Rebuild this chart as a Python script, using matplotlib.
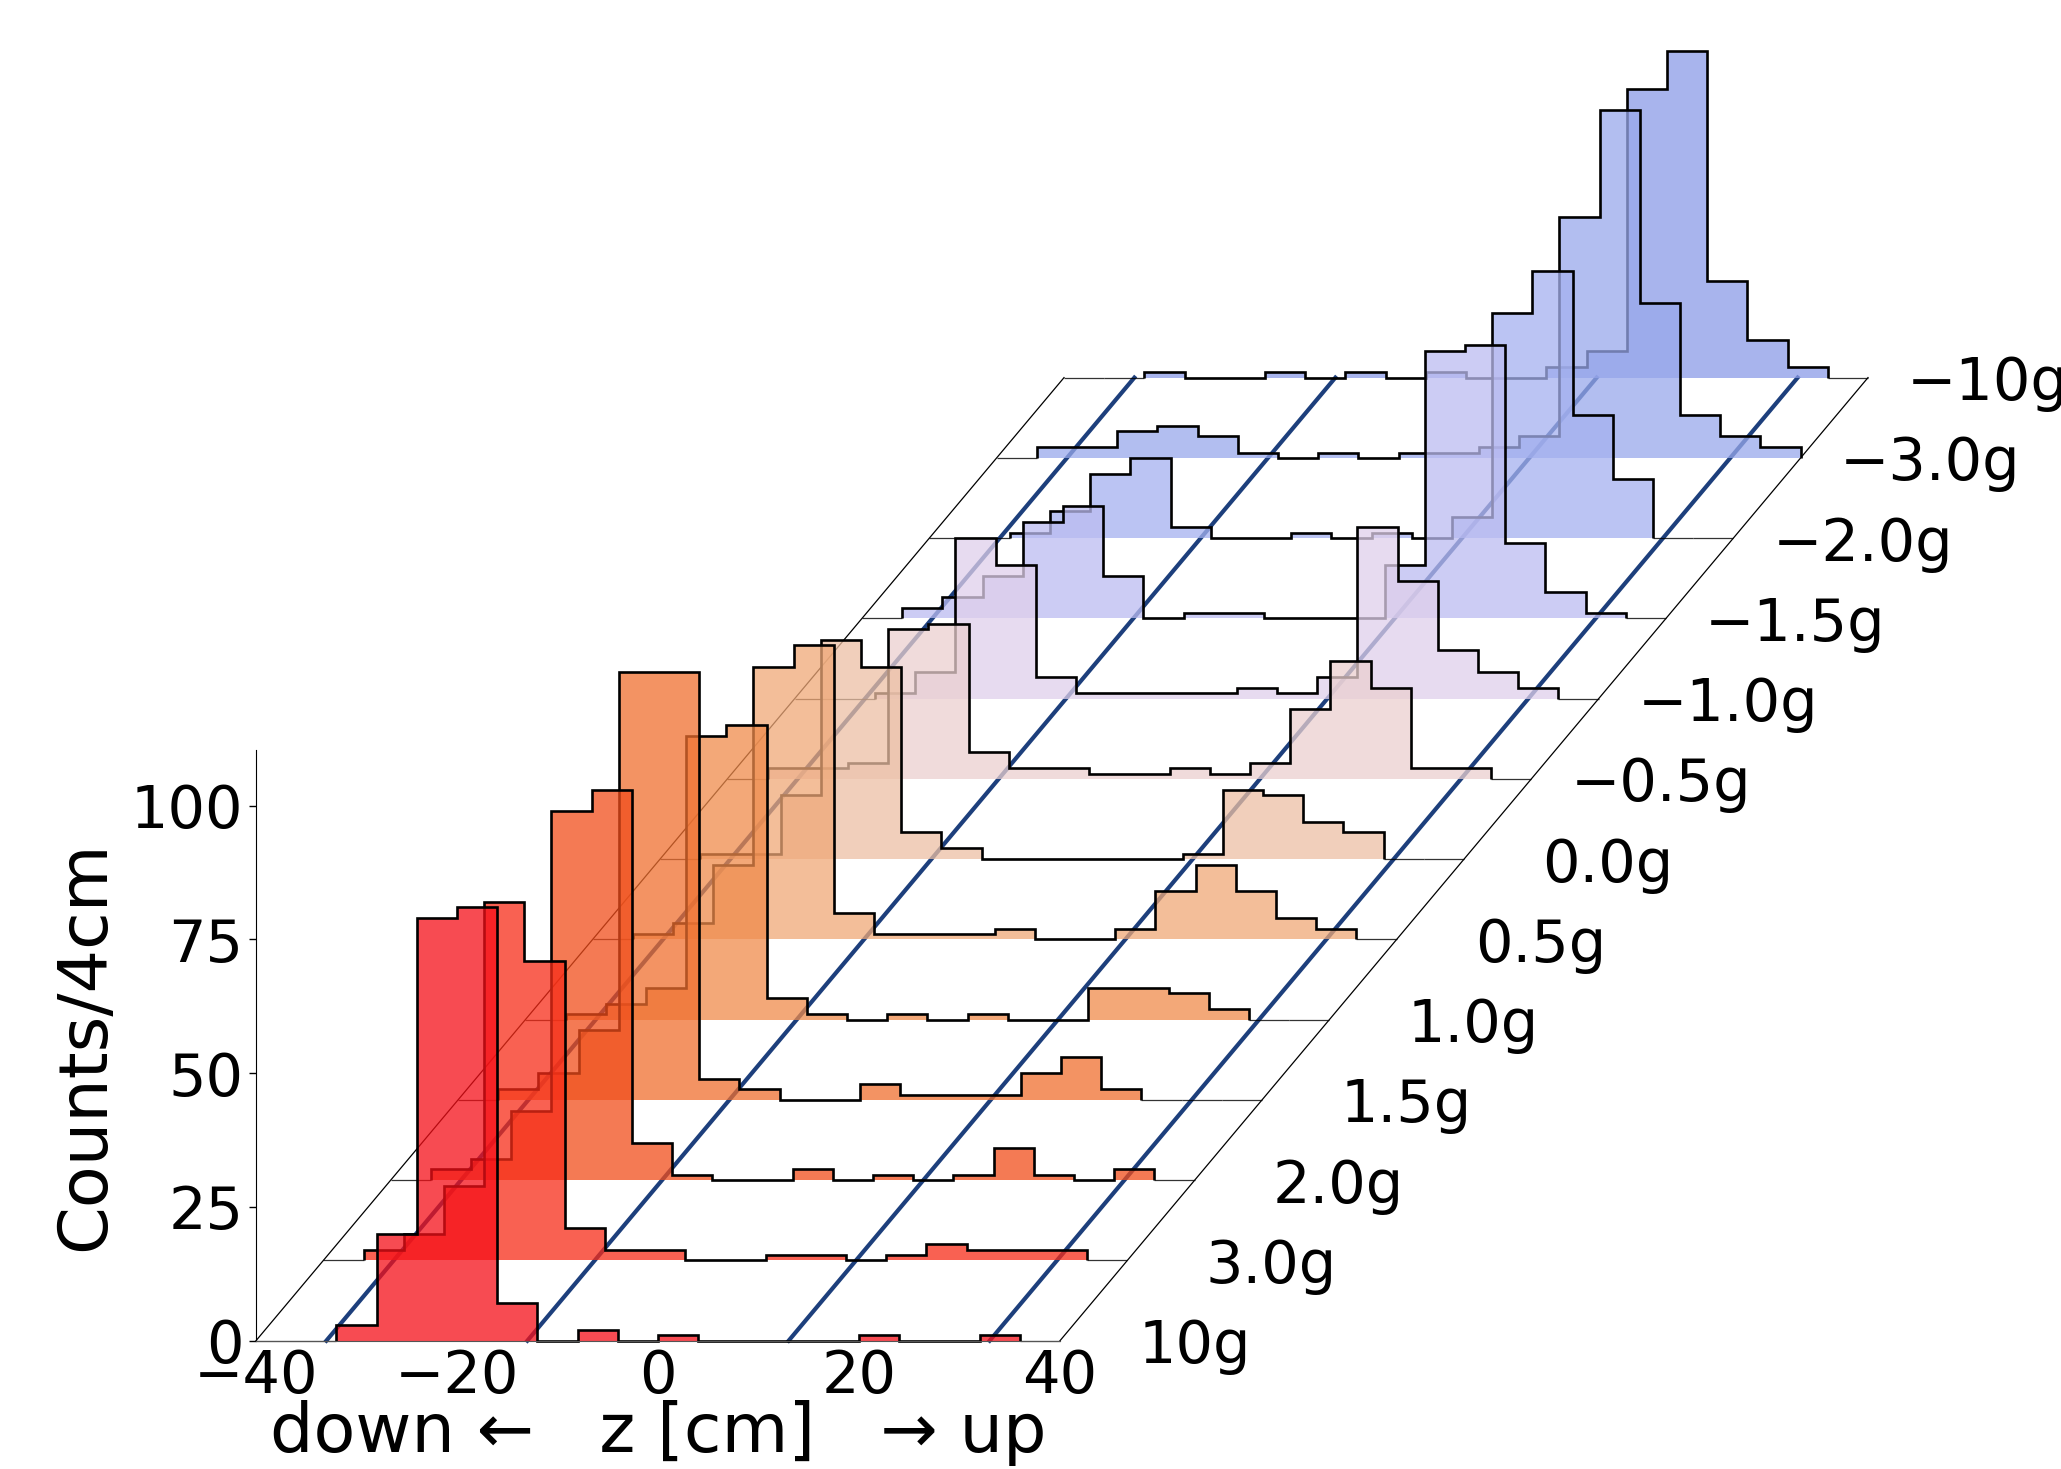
import numpy as np
import matplotlib
matplotlib.use("Agg")
import matplotlib.pyplot as plt
from matplotlib.transforms import Affine2D

# bins: z from -40 to 40 cm, 4 cm wide
bin_edges = np.arange(-40, 41, 4)

counts_p10 = [0,0,3,20,79,81,7,0,2,0,1,0,0,0,0,1,0,0,1,0]
counts_p3 = [0,2,5,14,67,56,6,2,2,0,0,1,1,0,1,3,2,2,2,0]
counts_p2 = [0,2,4,13,69,73,7,1,0,0,2,0,1,0,1,6,1,0,2,0]
counts_p15 = [0,2,5,13,80,80,4,2,0,0,3,1,1,1,5,8,2,0,0,0]
counts_p1 = [0,1,3,6,53,55,4,1,0,1,0,1,0,0,6,6,5,2,0,0]
counts_p05 = [0,1,3,14,51,55,5,1,1,1,2,0,0,2,9,14,9,4,2,0]
counts_0 = [0,1,1,12,41,36,5,2,0,0,0,0,0,1,13,12,7,5,0,0]
counts_m05 = [0,2,2,3,28,29,5,2,2,1,1,2,1,3,13,22,17,2,2,0]
counts_m1 = [0,0,1,5,30,25,4,1,1,1,1,2,1,4,32,22,9,5,2,0]
counts_m15 = [0,2,4,8,18,21,8,0,1,1,0,0,0,10,50,51,14,5,1,0]
counts_m2 = [0,0,1,5,12,15,2,0,0,1,0,1,0,4,42,50,23,11,0,0]
counts_m3 = [0,2,2,5,6,4,1,0,1,0,1,1,2,4,45,65,29,8,4,2]
counts_m10 = [0,0,1,0,0,1,0,1,0,1,0,0,2,5,54,61,18,7,2,0]

layers = [counts_p10, counts_p3, counts_p2, counts_p15, counts_p1, counts_p05, counts_0,
          counts_m05, counts_m1, counts_m15, counts_m2, counts_m3, counts_m10]
layer_labels = ["10g", "3.0g", "2.0g", "1.5g", "1.0g", "0.5g", "0.0g",
                "\u22120.5g", "\u22121.0g", "\u22121.5g", "\u22122.0g", "\u22123.0g", "\u221210g"]
layer_colors = ["#f50f18", "#f82c18", "#f14d1b", "#ef6f2f", "#ef8b4b", "#efa877", "#edc0a4",
                "#ebd0d0", "#e0d0eb", "#bcbcf1", "#a5b1ef", "#98a8eb", "#8b9be8"]
guide_z = [-33, -13, 13, 33]
frame_z = [-40, 40]

DX, DY = 6.7, 15.0
W, H = 2061, 1469
fig = plt.figure(figsize=(W / 100, H / 100), dpi=100)
ax = fig.add_axes([256 / W, 1 - 1340.7 / H, 804 / W, 590.7 / H])
ax.set_xlim(-40, 40)
ax.set_ylim(0, 110.4)

n = len(layers)
top_x, top_y = (n - 1) * DX, (n - 1) * DY
for z in frame_z:
    ax.plot([z, z + top_x], [0, top_y], color="black", lw=0.9, zorder=1, clip_on=False)
for z in guide_z:
    ax.plot([z, z + top_x], [0, top_y], color="#1d3f7c", lw=3.0, zorder=1, clip_on=False)

for i, (vals, lab, col) in enumerate(zip(layers, layer_labels, layer_colors)):
    zo = 2 + (n - 1 - i)
    tr = Affine2D().translate(i * DX, i * DY) + ax.transData
    vals = np.array(vals, dtype=float)
    for k in np.nonzero(vals == 0)[0]:
        ax.plot(bin_edges[k:k + 2], [0, 0], transform=tr, color="black", lw=0.9, alpha=0.8,
                zorder=zo, clip_on=False, solid_capstyle="butt")
    ax.stairs(vals, bin_edges, fill=True, facecolor=col, edgecolor="none", alpha=0.75,
              transform=tr, zorder=zo + 0.1, clip_on=False)
    nz = np.nonzero(vals)[0]
    lo, hi = nz[0], nz[-1]
    ax.stairs(vals[lo:hi + 1], bin_edges[lo:hi + 2], baseline=0, fill=False, edgecolor="black",
              lw=1.9, transform=tr, zorder=zo + 0.2, clip_on=False)
    xoff = 3.9 if lab.startswith("\u2212") else 7.8
    ax.text(40 + xoff, 0, lab, transform=tr, fontsize=42.5, ha="left", va="center_baseline",
            zorder=40, clip_on=False)

for s in ("top", "right"):
    ax.spines[s].set_visible(False)
ax.spines["bottom"].set_zorder(30)
ax.spines["bottom"].set_color("#555555")
ax.set_xticks([-40, -20, 0, 20, 40])
ax.set_yticks([0, 25, 50, 75, 100])
ax.tick_params(axis="x", length=0, pad=5, labelsize=42.5)
ax.tick_params(axis="y", length=5, width=1, pad=4, labelsize=42.5)
ax.set_xlabel("down \u2190   z [cm]   \u2192 up", fontsize=49.3, va="baseline")
ax.xaxis.set_label_coords(0.5, -(1452 - 1340.7) / 590.7)
ax.set_ylabel("Counts/4cm", fontsize=49.3)
ax.yaxis.set_label_coords((118 - 256) / 804, 0.5)

fig.savefig("out.png", dpi=100)
